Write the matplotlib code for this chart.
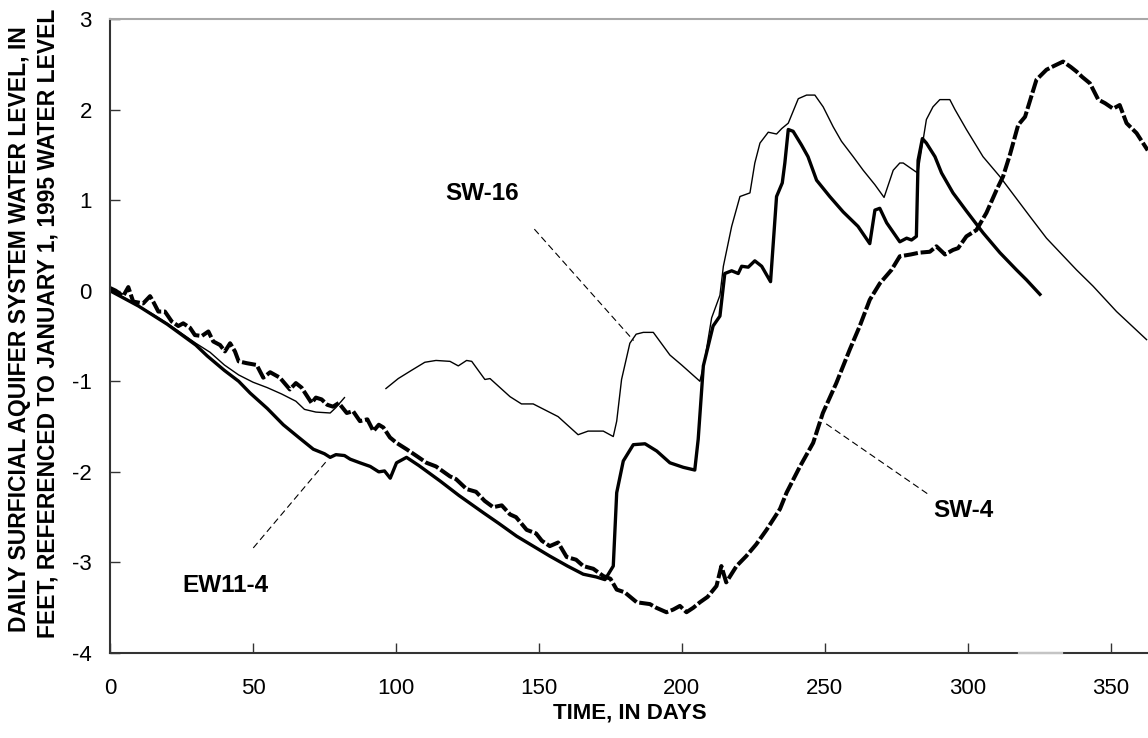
import matplotlib
matplotlib.use("Agg")
import matplotlib.pyplot as plt
import numpy as np

plt.rcParams['font.family'] = ['Liberation Sans', 'DejaVu Sans']
plt.rcParams['axes.unicode_minus'] = False

# SW-4 well (thick, broken line)
sw4_days = [0, 2, 4.6, 6.4, 8.1, 11.6, 14, 15.1, 16.9, 19.2, 21.6, 23.9, 25.6, 28, 29.7,
            32.1, 34.4, 36.1, 38.5, 40.2, 42, 43.7, 45, 47.8, 51.3, 53.6, 56, 59.4, 62.9,
            65, 67, 70.5, 72, 74, 76, 78, 80, 82.8, 85, 87.4, 90, 92.1, 94, 95.6, 97.9,
            100.2, 103.7, 107, 110.7, 114, 118.9, 121, 124.7, 128, 131, 134, 137, 139.9,
            142, 145.7, 149, 151, 153.8, 156.7, 159.7, 163, 165.5, 169, 172.5, 175, 177.2,
            180, 184.2, 188.8, 191, 194.6, 197, 199.3, 201.6, 204, 206.3, 209, 212.1,
            213.8, 215.5, 219.1, 222.5, 226, 229.6, 234.3, 236.6, 241.3, 245.9, 249.3,
            254, 258.7, 262.2, 265.7, 269.2, 273.3, 276.2, 280, 283, 286.7, 289, 292,
            294.8, 296.6, 299.5, 303, 306.5, 310, 312.3, 314.7, 317.6, 320, 324, 327.5,
            330, 333.3, 336, 338, 340, 342.7, 345.6, 348, 350.8, 353.1, 355.5, 359, 362.9]
sw4_level = [0.03, 0.0, -0.06, 0.04, -0.12, -0.14, -0.06, -0.12, -0.23, -0.23, -0.34, -0.39,
             -0.36, -0.41, -0.49, -0.50, -0.45, -0.56, -0.60, -0.67, -0.58, -0.67, -0.78,
             -0.80, -0.82, -0.96, -0.90, -0.96, -1.09, -1.02, -1.07, -1.24, -1.18, -1.20,
             -1.26, -1.28, -1.24, -1.35, -1.33, -1.44, -1.42, -1.55, -1.48, -1.51, -1.62,
             -1.68, -1.75, -1.82, -1.90, -1.94, -2.05, -2.08, -2.19, -2.22, -2.32, -2.39,
             -2.37, -2.47, -2.50, -2.64, -2.68, -2.76, -2.82, -2.78, -2.94, -2.97, -3.04,
             -3.07, -3.15, -3.18, -3.30, -3.33, -3.44, -3.46, -3.50, -3.55, -3.52, -3.48,
             -3.55, -3.50, -3.44, -3.38, -3.26, -3.04, -3.22, -3.04, -2.93, -2.80, -2.64,
             -2.41, -2.23, -1.94, -1.68, -1.35, -1.02, -0.65, -0.39, -0.10, 0.08, 0.23,
             0.38, 0.40, 0.42, 0.43, 0.49, 0.40, 0.45, 0.47, 0.60, 0.67, 0.86, 1.11, 1.26,
             1.50, 1.83, 1.92, 2.33, 2.44, 2.48, 2.53, 2.47, 2.42, 2.36, 2.29, 2.11, 2.07,
             2.01, 2.05, 1.85, 1.74, 1.55]

# EW11-4 well (thick solid)
ew11_days = [0, 10, 20, 30, 34, 40, 45, 49, 55, 60.6, 66, 71.1, 75, 77, 79, 82, 84, 87.4,
             91, 94, 96, 98, 100.2, 103.7, 108, 115.4, 122, 130.5, 136, 142.2, 148, 153.8,
             160, 165.5, 170, 173.1, 176, 177.2, 179.5, 183, 187.1, 191.2, 195.8, 200.5,
             204.5, 205.7, 207.5, 210.9, 213.3, 215, 217.4, 219.7, 220.9, 223.2, 225.5,
             227.9, 231, 233.1, 235.1, 236, 237.2, 238.9, 241.8, 244.1, 247.1, 251.7,
             256.4, 261.6, 265.7, 267.5, 269.2, 271.6, 276.2, 278.6, 280.3, 282, 282.6,
             284.1, 285.5, 288.5, 290.8, 294.8, 299.5, 305.3, 311.2, 317, 320.5, 325.2]
ew11_level = [0, -0.17, -0.37, -0.60, -0.72, -0.88, -1.00, -1.13, -1.30, -1.48, -1.62, -1.75,
              -1.80, -1.84, -1.81, -1.82, -1.86, -1.90, -1.94, -2.00, -1.99, -2.07, -1.90,
              -1.84, -1.93, -2.10, -2.26, -2.45, -2.57, -2.71, -2.82, -2.93, -3.04, -3.13,
              -3.16, -3.19, -3.04, -2.23, -1.88, -1.70, -1.69, -1.77, -1.90, -1.95, -1.98,
              -1.64, -0.83, -0.39, -0.28, 0.19, 0.22, 0.19, 0.27, 0.26, 0.33, 0.27, 0.10,
              1.04, 1.19, 1.41, 1.78, 1.76, 1.61, 1.48, 1.22, 1.04, 0.87, 0.71, 0.52, 0.89,
              0.91, 0.75, 0.54, 0.58, 0.56, 0.60, 1.44, 1.68, 1.63, 1.48, 1.30, 1.08, 0.88,
              0.64, 0.42, 0.23, 0.12, -0.04]

# SW-16 well (thin solid), two pieces of record
sw16_days_a = [0, 5, 10, 15, 20, 25, 30, 35, 40, 45, 50, 55, 60, 65, 68, 72, 77, 79, 82]
sw16_level_a = [0, -0.08, -0.17, -0.26, -0.36, -0.47, -0.58, -0.68, -0.82, -0.93, -1.01,
                -1.07, -1.14, -1.22, -1.31, -1.34, -1.35, -1.29, -1.18]
sw16_days_b = [96.5, 100.8, 105.4, 110.1, 114, 118.9, 121.8, 124.7, 126.5, 131.1, 132.9,
               139.9, 143.9, 148, 156.7, 163.7, 167.2, 172.5, 176, 177.2, 178.9, 181.8,
               184, 186.5, 190, 195.8, 199.9, 206.3, 208, 210.4, 213.3, 214.5, 217.4,
               220.3, 223.8, 225.5, 227.3, 230.2, 233.1, 234.9, 237.2, 240.7, 243.6,
               246.5, 249.4, 252.9, 255.8, 259.9, 263.4, 267.5, 270.7, 273.9, 276.2,
               277.4, 281.5, 282.5, 285.5, 287.8, 290.2, 293.7, 295.5, 299.5, 305.3,
               311.2, 321.7, 327.5, 338, 343.8, 352, 362.5]
sw16_level_b = [-1.08, -0.97, -0.88, -0.79, -0.77, -0.78, -0.83, -0.77, -0.78, -0.98, -0.97,
                -1.17, -1.25, -1.25, -1.39, -1.59, -1.55, -1.55, -1.61, -1.44, -0.98, -0.58,
                -0.48, -0.46, -0.46, -0.71, -0.82, -1.00, -0.76, -0.30, -0.05, 0.27, 0.71,
                1.04, 1.08, 1.41, 1.63, 1.75, 1.73, 1.79, 1.85, 2.12, 2.16, 2.16, 2.03,
                1.81, 1.65, 1.48, 1.33, 1.17, 1.03, 1.33, 1.41, 1.41, 1.32, 1.30, 1.89,
                2.03, 2.11, 2.11, 2.00, 1.78, 1.48, 1.26, 0.82, 0.58, 0.23, 0.05, -0.23,
                -0.54]

# labels: (text, label x, label y, leader start, leader end)
well_labels = ["SW-16", "EW11-4", "SW-4"]
label_xy = [(130.3, 1.07), (40.2, -3.26), (298.4, -2.43)]
leader_from = [(148.4, 0.68), (50.1, -2.84), (285.8, -2.24)]
leader_to = [(183.1, -0.55), (76.3, -1.86), (250.0, -1.46)]

x_ticks = [0, 50, 100, 150, 200, 250, 300, 350]
y_ticks = [-4, -3, -2, -1, 0, 1, 2, 3]

fig = plt.figure(figsize=(11.48, 7.38), dpi=100)
ax = fig.add_axes([110 / 1148, 85 / 738, 1 - 110 / 1148, 634 / 738])

ax.plot(sw16_days_a, sw16_level_a, color='black', lw=1.0, solid_joinstyle='round')
ax.plot(sw16_days_b, sw16_level_b, color='black', lw=1.0, solid_joinstyle='round')
ax.plot(ew11_days, ew11_level, color='black', lw=2.4, solid_joinstyle='round')
ax.plot(sw4_days, sw4_level, color='black', lw=2.9, linestyle=(0, (3.5, 0.7)))

for name, (tx, ty), (x0, y0), (x1, y1) in zip(well_labels, label_xy, leader_from, leader_to):
    ax.plot([x0, x1], [y0, y1], color='black', lw=0.8, linestyle=(0, (6, 3.5)))
    ax.text(tx, ty, name, fontsize=17.5, fontweight='bold', ha='center', va='center')

ax.set_xlim(0, 363)
ax.set_ylim(-4, 3)
ax.set_xticks(x_ticks)
ax.set_yticks(y_ticks)
ax.tick_params(direction='in', length=7, width=1, labelsize=16, color='#333333')
ax.tick_params(axis='x', pad=18)
ax.tick_params(axis='y', pad=13)

ax.spines['right'].set_visible(False)
ax.spines['top'].set_color('#a8a8a8')
ax.spines['top'].set_linewidth(1.5)
for side in ['left', 'bottom']:
    ax.spines[side].set_color('#333333')
    ax.spines[side].set_linewidth(1.5)
# faded stretch of the bottom axis line
ax.plot([318, 333], [-4, -4], color='#c4c4c4', lw=1.6, clip_on=False, zorder=5)

fig.text(20 / 1148, 1 - 632 / 738, "DAILY SURFICIAL AQUIFER SYSTEM WATER LEVEL, IN",
         rotation=90, ha='center', va='bottom', fontsize=16.5, fontweight='bold')
fig.text(48 / 1148, 1 - 638 / 738, "FEET, REFERENCED TO JANUARY 1, 1995 WATER LEVEL",
         rotation=90, ha='center', va='bottom', fontsize=16.5, fontweight='bold')
fig.text(630 / 1148, 1 - 713 / 738, "TIME, IN DAYS", ha='center', va='center',
         fontsize=16, fontweight='bold')

fig.savefig("out.png", dpi=100)
